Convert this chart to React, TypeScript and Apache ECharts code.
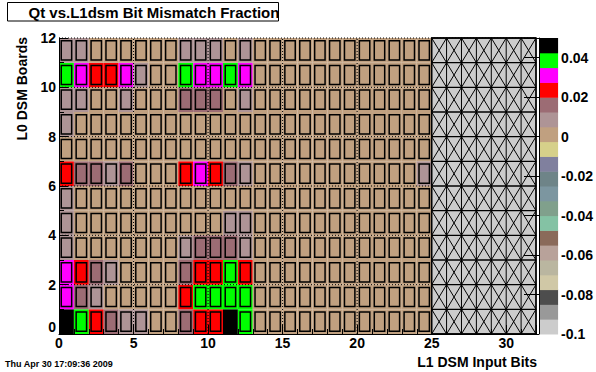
import React, { useEffect, useRef } from "react";
import * as echarts from "echarts";

// ---- data ----
const B = 0.046; // black band
const G = 0.039; // green band
const M = 0.031; // magenta band
const R = 0.024; // red band
const D = 0.016; // dark mauve band
const L = 0.009; // light mauve band
const Z = 0; // zero (tan)

const board0 = [B, G, R, D, L, L, Z, Z, D, R, R, B, G, Z, Z, Z, Z, Z, Z, Z, Z, Z, Z, Z, Z];
const board1 = [M, D, L, Z, Z, Z, Z, Z, R, G, G, G, G, Z, Z, Z, Z, Z, Z, Z, Z, Z, Z, Z, Z];
const board2 = [M, R, D, L, Z, Z, Z, Z, D, R, R, G, R, Z, Z, Z, Z, Z, Z, Z, Z, Z, Z, Z, Z];
const board3 = [L, Z, Z, Z, Z, Z, Z, Z, L, D, D, D, L, Z, Z, Z, Z, Z, Z, Z, Z, Z, Z, Z, Z];
const board4 = [L, Z, Z, Z, Z, Z, Z, Z, Z, Z, Z, L, L, Z, Z, Z, Z, Z, Z, Z, Z, Z, Z, Z, Z];
const board5 = [L, Z, Z, Z, Z, Z, Z, Z, Z, Z, Z, Z, Z, Z, Z, Z, Z, Z, Z, Z, Z, Z, Z, Z, Z];
const board6 = [R, D, D, L, D, Z, Z, Z, R, M, R, D, L, Z, Z, Z, Z, Z, Z, Z, Z, Z, Z, Z, L];
const board7 = [Z, Z, Z, Z, Z, Z, Z, Z, Z, Z, Z, Z, Z, Z, Z, Z, Z, Z, Z, Z, Z, Z, Z, Z, Z];
const board8 = [L, Z, Z, Z, Z, Z, Z, Z, Z, Z, Z, Z, Z, Z, Z, Z, Z, Z, Z, Z, Z, Z, Z, Z, Z];
const board9 = [L, L, Z, Z, L, Z, Z, Z, D, D, D, Z, L, Z, Z, Z, Z, Z, Z, Z, Z, Z, Z, Z, Z];
const board10 = [G, M, R, R, M, L, Z, Z, G, M, M, G, M, Z, Z, Z, Z, Z, Z, Z, Z, Z, Z, Z, Z];
const board11 = [L, L, Z, Z, Z, Z, Z, Z, L, L, L, Z, L, Z, Z, Z, Z, Z, Z, Z, Z, Z, Z, Z, Z];
const boards = [board0, board1, board2, board3, board4, board5, board6, board7, board8, board9, board10, board11];

const xGridLines = [5, 10, 15, 20];
const yGridLines = [2, 4, 6, 8, 10, 12];
const emptyRegion = [[25, 32, 0, 12]];

const zMin = -0.1;
const zMax = 0.05;
const paletteColors = [
  "#cccccc", "#999999", "#4d4d4d", "#d0c8a6", "#bab6a0", "#b8a29a", "#8a6a5a",
  "#84c2a4", "#80a08c", "#7c96a0", "#6e8488", "#80809e", "#d6d08a", "#c0a080",
  "#ae9496", "#9c6c74", "#ff0000", "#ff00ff", "#00ff00", "#000000",
];

const FONT = "Liberation Sans, Arial, Helvetica, sans-serif";

function colorFor(v: number) {
  const n = paletteColors.length;
  let i = Math.floor(((v - zMin) / (zMax - zMin)) * n);
  if (i < 0) i = 0;
  if (i > n - 1) i = n - 1;
  return paletteColors[i];
}

export default function App() {
  const ref = useRef<HTMLDivElement>(null);
  useEffect(() => {
    if (!ref.current) return;
    const chart = echarts.init(ref.current, undefined, { renderer: "svg" });

    const cellData: number[][] = [];
    boards.forEach((row, y) => row.forEach((v, x) => cellData.push([x, y, v])));

    const nBands = paletteColors.length;
    const bandData = paletteColors.map((c, i) => [
      zMin + ((zMax - zMin) * i) / nBands,
      zMin + ((zMax - zMin) * (i + 1)) / nBands,
      i,
    ]);

    const gridLineData = [
      ...xGridLines.map((x) => [0, x]),
      ...yGridLines.map((y) => [1, y]),
    ];

    const axisLabelStyle = {
      color: "#000",
      fontFamily: FONT,
      fontWeight: "bold" as const,
      fontSize: 14,
    };

    const option: any = {
      animation: false,
      backgroundColor: "#ffffff",
      grid: [
        { left: 59, top: 38, width: 477, height: 296 },
        { left: 539, top: 38, width: 27, height: 296 },
      ],
      xAxis: [
        {
          type: "value",
          gridIndex: 0,
          min: 0,
          max: 32,
          interval: 5,
          z: 10,
          axisLine: { show: true, lineStyle: { color: "#000", width: 1 } },
          axisTick: { show: true, inside: true, length: 9, lineStyle: { color: "#000" } },
          minorTick: { show: true, splitNumber: 5, length: 5, lineStyle: { color: "#000" } },
          splitLine: { show: false },
          axisLabel: {
            ...axisLabelStyle,
            margin: 2,
            formatter: (v: number) => (v > 31 ? "" : String(v)),
          },
        },
        { type: "value", gridIndex: 1, min: 0, max: 1, show: false },
      ],
      yAxis: [
        {
          type: "value",
          gridIndex: 0,
          min: 0,
          max: 12,
          interval: 2,
          z: 10,
          axisLine: { show: true, lineStyle: { color: "#000", width: 1 } },
          axisTick: { show: true, inside: true, length: 9, lineStyle: { color: "#000" } },
          minorTick: { show: true, splitNumber: 2, length: 5, lineStyle: { color: "#000" } },
          splitLine: { show: false },
          axisLabel: { ...axisLabelStyle, margin: 3, verticalAlignMinLabel: "bottom" },
        },
        {
          type: "value",
          gridIndex: 1,
          position: "right",
          min: zMin,
          max: zMax,
          interval: 0.02,
          z: 10,
          axisLine: { show: true, lineStyle: { color: "#000", width: 1 } },
          axisTick: { show: true, inside: true, length: 15, lineStyle: { color: "#000" } },
          splitLine: { show: false },
          axisLabel: {
            ...axisLabelStyle,
            margin: 3,
            formatter: (v: number) => (v > 0.045 ? "" : String(parseFloat(v.toFixed(3)))),
          },
        },
      ],
      series: [
        {
          type: "custom",
          xAxisIndex: 0,
          yAxisIndex: 0,
          data: cellData,
          renderItem: (params: any, api: any) => {
            const x = api.value(0);
            const y = api.value(1);
            const v = api.value(2);
            const p0 = api.coord([x, y + 1]);
            const p1 = api.coord([x + 1, y]);
            const w = p1[0] - p0[0];
            const h = p1[1] - p0[1];
            const c = colorFor(v);
            const ix = 2.25;
            const iy = 2.75;
            return {
              type: "group",
              children: [
                { type: "rect", shape: { x: p0[0], y: p0[1], width: w, height: h }, style: { fill: c } },
                {
                  type: "rect",
                  shape: { x: p0[0] + ix, y: p0[1] + iy, width: w - 2 * ix, height: h - 2 * iy },
                  style: { fill: c, stroke: "#000", lineWidth: 1.5 },
                },
              ],
            };
          },
        },
        {
          type: "custom",
          xAxisIndex: 0,
          yAxisIndex: 0,
          data: gridLineData,
          renderItem: (params: any, api: any) => {
            const kind = api.value(0);
            const pos = api.value(1);
            let a, b;
            if (kind === 0) {
              a = api.coord([pos, 0]);
              b = api.coord([pos, 12]);
            } else {
              a = api.coord([0, pos]);
              b = api.coord([32, pos]);
            }
            return {
              type: "line",
              shape: { x1: a[0], y1: a[1], x2: b[0], y2: b[1] },
              style: { stroke: "#000", lineWidth: 1, lineDash: [1, 2] },
            };
          },
        },
        {
          type: "custom",
          xAxisIndex: 0,
          yAxisIndex: 0,
          data: emptyRegion,
          renderItem: (params: any, api: any) => {
            const x0 = api.value(0);
            const x1 = api.value(1);
            const y0 = api.value(2);
            const y1 = api.value(3);
            const tl = api.coord([x0, y1]);
            const br = api.coord([x1, y0]);
            const children: any[] = [
              {
                type: "rect",
                shape: { x: tl[0], y: tl[1], width: br[0] - tl[0], height: br[1] - tl[1] },
                style: { fill: "#cccccc" },
              },
            ];
            const ln = (a: number[], b: number[], lw: number) => ({
              type: "line",
              shape: { x1: a[0], y1: a[1], x2: b[0], y2: b[1] },
              style: { stroke: "#000", lineWidth: lw },
            });
            for (let i = x0; i < x1; i++) {
              for (let j = y0; j < y1; j++) {
                children.push(ln(api.coord([i, j]), api.coord([i + 1, j + 1]), 1));
                children.push(ln(api.coord([i + 1, j]), api.coord([i, j + 1]), 1));
              }
            }
            for (let i = x0; i <= x1; i++) children.push(ln(api.coord([i, y0]), api.coord([i, y1]), 1));
            for (let j = y0; j <= y1; j++) children.push(ln(api.coord([x0, j]), api.coord([x1, j]), 1.3));
            children.push({
              type: "rect",
              shape: { x: tl[0], y: tl[1], width: br[0] - tl[0], height: br[1] - tl[1] },
              style: { fill: "none", stroke: "#000", lineWidth: 1.5 },
            });
            return { type: "group", children };
          },
        },
        {
          type: "custom",
          xAxisIndex: 1,
          yAxisIndex: 1,
          data: bandData,
          renderItem: (params: any, api: any) => {
            const lo = api.value(0);
            const hi = api.value(1);
            const idx = api.value(2);
            const p0 = api.coord([0, hi]);
            const p1 = api.coord([1, lo]);
            return {
              type: "rect",
              shape: { x: p0[0], y: p0[1], width: p1[0] - p0[0], height: p1[1] - p0[1] + 0.5 },
              style: { fill: paletteColors[idx] },
            };
          },
        },
      ],
      graphic: [
        {
          type: "rect",
          shape: { x: 7.5, y: 2.5, width: 271, height: 18.5 },
          style: { fill: "#fff", stroke: "#000", lineWidth: 1 },
        },
        {
          type: "text",
          x: 28.5,
          y: 12,
          style: {
            text: "Qt vs.L1dsm Bit Mismatch Fraction",
            fontFamily: FONT,
            fontWeight: "bold",
            fontSize: 15,
            fill: "#000",
            align: "left",
            verticalAlign: "middle",
          },
        },
        {
          type: "text",
          x: 22,
          y: 37,
          rotation: Math.PI / 2,
          style: {
            text: "L0 DSM Boards",
            fontFamily: FONT,
            fontWeight: "bold",
            fontSize: 14,
            fill: "#000",
            align: "right",
            verticalAlign: "middle",
          },
        },
        {
          type: "text",
          x: 537,
          y: 362,
          style: {
            text: "L1 DSM Input Bits",
            fontFamily: FONT,
            fontWeight: "bold",
            fontSize: 14,
            fill: "#000",
            align: "right",
            verticalAlign: "middle",
          },
        },
        {
          type: "text",
          x: 5,
          y: 364,
          style: {
            text: "Thu Apr 30 17:09:36 2009",
            fontFamily: FONT,
            fontWeight: "bold",
            fontSize: 9,
            fill: "#000",
            align: "left",
            verticalAlign: "middle",
          },
        },
      ],
    };

    chart.setOption(option);
    return () => chart.dispose();
  }, []);

  return (
    <div
      ref={ref}
      style={{ position: "absolute", left: 0, top: 0, width: 596, height: 372 }}
    />
  );
}
